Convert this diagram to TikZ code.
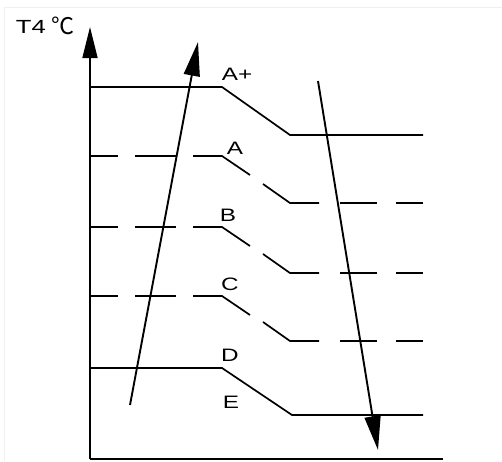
\documentclass[tikz,border=0pt]{standalone}
\usepackage{fontspec}
\setmainfont{Liberation Sans}
\newfontfamily\widefont[FakeStretch=1.35]{Liberation Sans}
\newfontfamily\cjkfont{Noto Sans CJK SC}
\usetikzlibrary{arrows.meta}
\begin{document}
\begin{tikzpicture}[x=1pt,y=-1pt,line width=1.7pt,
  axisarrow/.style={line width=1.7pt,-{Triangle[length=31pt,width=15pt]}},
  trendarrow/.style={line width=1.9pt,-{Triangle[length=34pt,width=16pt]}},
  lbl/.style={font=\widefont\fontsize{18}{18}\selectfont,inner sep=0pt}]
\useasboundingbox (0,0) rectangle (502,461);
\fill[white] (0,0) rectangle (502,461);
\draw[gray!12,line width=0.8pt] (4,461) -- (4,7) -- (502,7);
% axes
\coordinate (O) at (90,459);
\coordinate (Ytop) at (90,27);
\coordinate (Xend) at (443,459);
\draw[axisarrow] (O) -- (Ytop);
\draw (O) -- (Xend);
\node[lbl,font=\widefont\fontsize{19}{19}\selectfont,anchor=base west] (t4) at (15,33) {T4};
\node[inner sep=0pt,anchor=base west,font=\cjkfont\fontsize{23}{23}\selectfont] (deg) at (51,34) {℃};
% solid rows
\draw (90,87) -- (222,87) -- (290,135) -- (423,135);
\draw (90,368) -- (222,368) -- (292,415) -- (423,415);
% dashed rows
\foreach \y/\yy in {156/203,227/273,296/341}{
  \draw (90,\y) -- (118,\y);
  \draw (135,\y) -- (176,\y);
  \draw (193,\y) -- (222,\y) -- (250,\y+19);
  \draw (263,\yy-19) -- (290,\yy) -- (319,\yy);
  \draw (340,\yy) -- (377,\yy);
  \draw (396,\yy) -- (423,\yy);
}
% labels
\node[lbl] (Ap) at (237,74) {A+};
\node[lbl] (A) at (235,148) {A};
\node[lbl] (B) at (228,215) {B};
\node[lbl] (C) at (230,284) {C};
\node[lbl] (D) at (230,355) {D};
\node[lbl] (E) at (231,402) {E};
% trend arrows
\coordinate (u1) at (130,405);
\coordinate (u2) at (198,42);
\coordinate (d1) at (318,81);
\coordinate (d2) at (378,450);
\draw[trendarrow] (u1) -- (u2);
\draw[trendarrow] (d1) -- (d2);
\end{tikzpicture}
\end{document}
